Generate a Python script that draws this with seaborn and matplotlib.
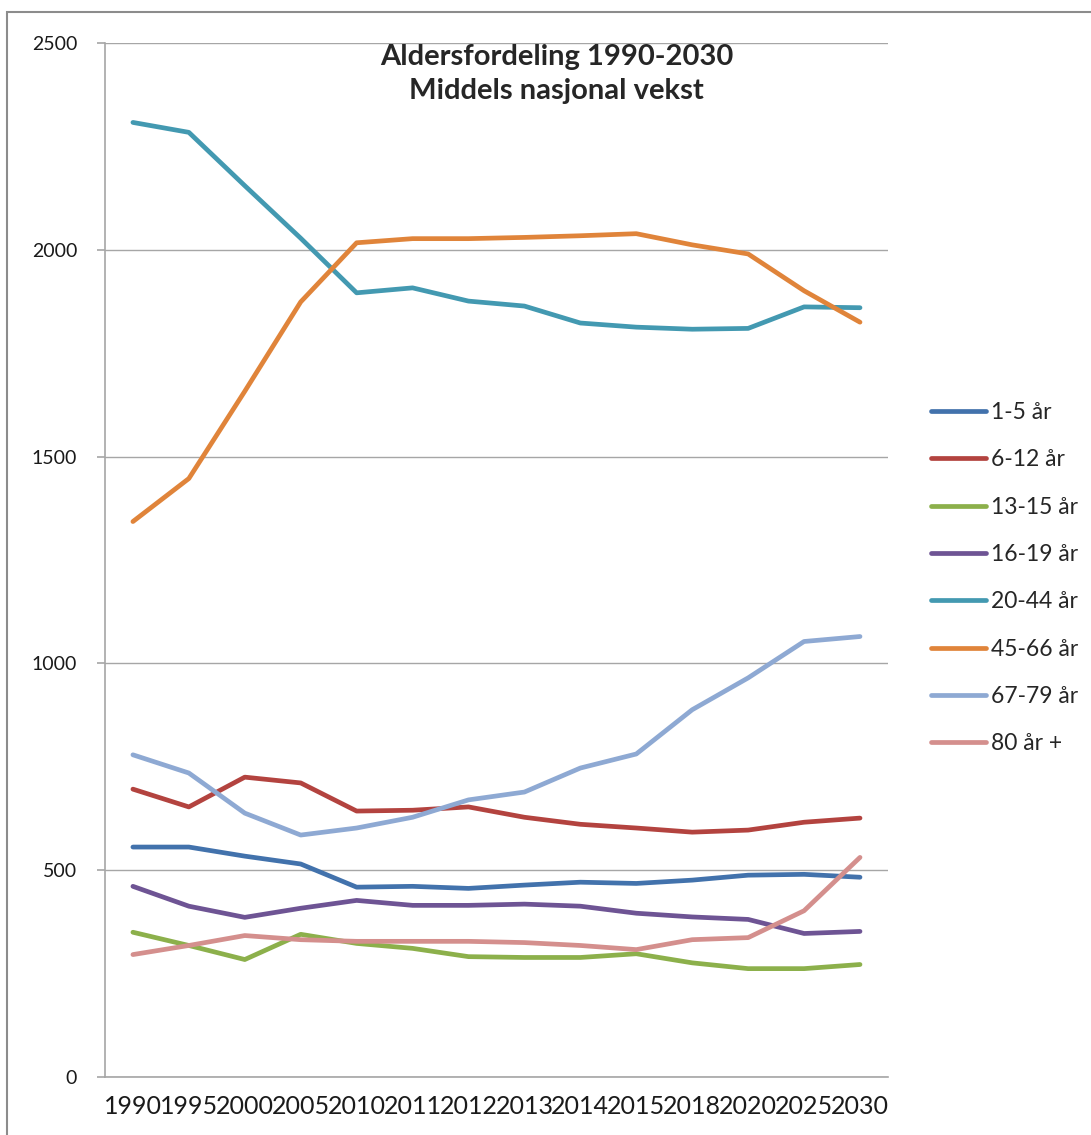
import pandas as pd
import matplotlib.pyplot as plt
import seaborn as sns
from matplotlib.patches import Rectangle
from matplotlib.ticker import FixedLocator

# data
years = ['1990', '1995', '2000', '2005', '2010', '2011', '2012',
         '2013', '2014', '2015', '2018', '2020', '2025', '2030']
groups = ['1-5 år', '6-12 år', '13-15 år', '16-19 år',
          '20-44 år', '45-66 år', '67-79 år', '80 år +']

age_1_5 = [556, 556, 534, 515, 459, 461, 456, 464, 471, 468, 476, 488, 490, 483]
age_6_12 = [696, 653, 725, 711, 643, 645, 653, 628, 611, 602, 592, 597, 616, 626]
age_13_15 = [350, 318, 284, 345, 323, 311, 291, 289, 289, 298, 276, 262, 262, 272]
age_16_19 = [461, 413, 386, 408, 427, 415, 415, 418, 413, 396, 387, 381, 347, 352]
age_20_44 = [2308, 2284, 2155, 2028, 1896, 1908, 1876, 1864, 1823, 1813, 1808, 1810, 1862, 1860]
age_45_66 = [1343, 1447, 1658, 1874, 2017, 2027, 2027, 2030, 2034, 2039, 2012, 1990, 1901, 1825]
age_67_79 = [779, 735, 638, 585, 602, 628, 670, 689, 747, 781, 888, 965, 1053, 1065]
age_80 = [296, 318, 342, 332, 328, 328, 328, 325, 318, 308, 332, 337, 402, 531]

colors = ['#4272AC', '#B3433F', '#8CB04B', '#6E5494',
          '#4399B1', '#E0843A', '#8EA9D3', '#D48F8D']

series = [age_1_5, age_6_12, age_13_15, age_16_19,
          age_20_44, age_45_66, age_67_79, age_80]
df = pd.DataFrame({
    'year': years * len(groups),
    'group': [g for g in groups for _ in years],
    'value': [v for s in series for v in s],
})

sns.set_style('white')
plt.rcParams['font.family'] = ['Lato', 'DejaVu Sans']

fig = plt.figure(figsize=(10.91, 11.35), dpi=100)
ax = fig.add_axes([0.0962, 0.0511, 0.7177, 0.911])

sns.lineplot(data=df, x='year', y='value', hue='group', hue_order=groups,
             palette=colors, linewidth=3.4, ax=ax, sort=False)

ax.set_xlim(-0.5, len(years) - 0.5)
ax.set_ylim(0, 2500)
ax.set_yticks([0, 500, 1000, 1500, 2000, 2500])
ax.yaxis.grid(True, color='#A6A6A6', linewidth=1)
ax.xaxis.grid(False)
ax.set_xlabel('')
ax.set_ylabel('')

for side in ['top', 'right']:
    ax.spines[side].set_visible(False)
for side in ['left', 'bottom']:
    ax.spines[side].set_color('#A6A6A6')
    ax.spines[side].set_linewidth(1.2)

# Excel style: tick marks between categories
ax.xaxis.set_minor_locator(FixedLocator([i - 0.5 for i in range(len(years) + 1)]))
ax.tick_params(axis='x', which='major', length=0, labelsize=18, pad=13, colors='#1A1A1A')
ax.tick_params(axis='x', which='minor', length=7, width=1.2, color='#A6A6A6', direction='out')
ax.tick_params(axis='y', length=6, width=1.2, color='#A6A6A6', labelsize=14, pad=14,
               colors='#1A1A1A', direction='out', left=True)
ax.tick_params(axis='y', which='major', color='#A6A6A6')

fig.text(0.51, 0.935, 'Aldersfordeling 1990-2030\nMiddels nasjonal vekst',
         ha='center', va='center', fontsize=21, fontweight='bold', linespacing=1.4)

ax.legend(loc='upper left', bbox_to_anchor=(0.834, 0.664), bbox_transform=fig.transFigure,
          frameon=False, fontsize=16.5, handlelength=2.4, handletextpad=0.25,
          labelspacing=1.15)

fig.add_artist(Rectangle((7 / 1091, -0.05), 1.1, 1 - 12 / 1135 + 0.05,
                         transform=fig.transFigure, fill=False,
                         edgecolor='#8C8C8C', linewidth=1.5))

fig.savefig('out.png', dpi=100)
